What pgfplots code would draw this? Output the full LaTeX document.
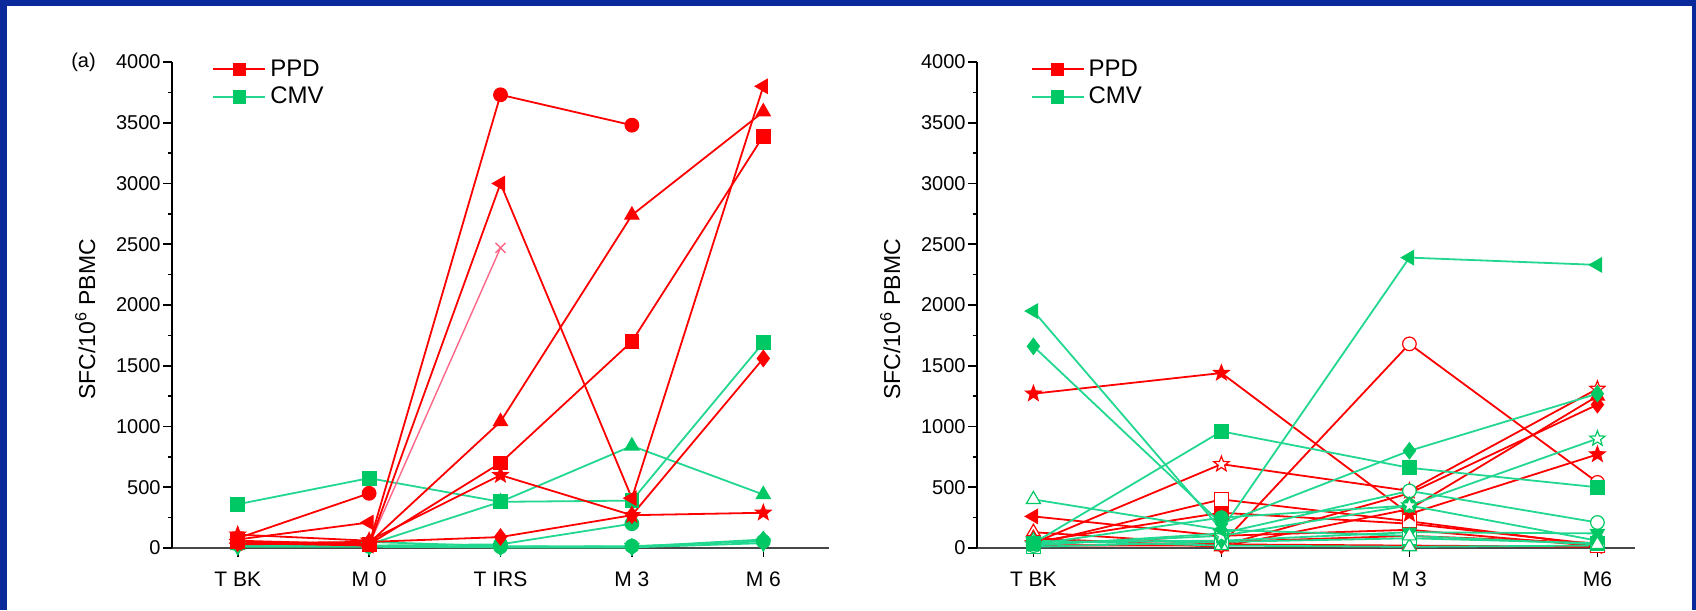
\documentclass[border=0pt]{standalone}
\usepackage{fontspec}
\setmainfont{Liberation Sans}
\usepackage{pgfplots}
\pgfplotsset{compat=1.18}
\usetikzlibrary{plotmarks}

\definecolor{frameblue}{HTML}{0A2A9C}
\definecolor{ppdred}{HTML}{FF0000}
\definecolor{ppdpink}{HTML}{FF6688}
\definecolor{cmvline}{HTML}{22D890}
\definecolor{cmvmark}{HTML}{00C864}

% filled five-point star
\pgfdeclareplotmark{fivestar}{%
  \pgfpathmoveto{\pgfpointpolar{90}{\pgfplotmarksize}}%
  \pgfpathlineto{\pgfpointpolar{126}{0.42\pgfplotmarksize}}%
  \pgfpathlineto{\pgfpointpolar{162}{\pgfplotmarksize}}%
  \pgfpathlineto{\pgfpointpolar{198}{0.42\pgfplotmarksize}}%
  \pgfpathlineto{\pgfpointpolar{234}{\pgfplotmarksize}}%
  \pgfpathlineto{\pgfpointpolar{270}{0.42\pgfplotmarksize}}%
  \pgfpathlineto{\pgfpointpolar{306}{\pgfplotmarksize}}%
  \pgfpathlineto{\pgfpointpolar{342}{0.42\pgfplotmarksize}}%
  \pgfpathlineto{\pgfpointpolar{18}{\pgfplotmarksize}}%
  \pgfpathlineto{\pgfpointpolar{54}{0.42\pgfplotmarksize}}%
  \pgfpathclose
  \pgfusepathqfillstroke
}

\pgfplotsset{
  sfc axis/.style={
    scale only axis,
    height=243pt,
    ymin=0, ymax=4000,
    ytick={0,500,...,4000},
    minor y tick num=1,
    axis lines*=left,
    x axis line style={draw=black!72, line width=1.4pt},
    y axis line style={draw=black, line width=0.8pt},
    tick align=outside,
    major tick length=4.5pt,
    minor tick length=2.2pt,
    every tick/.style={black, line width=0.8pt},
    yticklabel style={font=\fontsize{10}{12}\selectfont, inner sep=1pt},
    xticklabel style={font=\fontsize{10.5}{12}\selectfont},
    xticklabel shift=4pt,
    /pgf/number format/assume math mode=true,
    /pgf/number format/set thousands separator={},
    ylabel={SFC/10\textsuperscript{6} PBMC},
    ylabel style={font=\fontsize{11.5}{13}\selectfont,
      at={(axis description cs:-0.132,0.47)}, anchor=center},
    clip=false,
    legend style={draw=none, fill=none, font=\fontsize{12}{14}\selectfont,
      anchor=north west, inner sep=0pt, row sep=0pt},
    legend cell align=left,
    legend image code/.code={\draw[mark repeat=2,mark phase=2,#1]
      plot coordinates {(0pt,0pt) (13pt,0pt) (26pt,0pt)};},
  },
  ppd/.style={draw=ppdred, line width=0.9pt, mark size=3.4pt,
    mark options={draw=ppdred, fill=ppdred, solid, line width=0.6pt}},
  cmv/.style={draw=cmvline, line width=0.9pt, mark size=3.4pt,
    mark options={draw=cmvmark, fill=cmvmark, solid, line width=0.6pt}},
  open/.style={every mark/.append style={fill=white}},
  tup/.style={mark=triangle*, mark size=4pt},
  tleft/.style={mark=triangle*, mark size=4pt, every mark/.append style={rotate=90}},
  tdown/.style={mark=triangle*, mark size=4pt, every mark/.append style={rotate=180}},
  diam/.style={mark=diamond*, mark size=4pt},
  starm/.style={mark=fivestar, mark size=4pt},
}

\begin{document}
\begin{tikzpicture}
\fill[frameblue] (0pt,0pt) rectangle (848pt,305pt);
\fill[white] (3.5pt,0pt) rectangle (846pt,302pt);
\node[font=\fontsize{10}{12}\selectfont] at (41.75pt,274pt) {(a)};

% left panel
\begin{axis}[
  sfc axis,
  at={(86pt,31pt)}, anchor=south west,
  width=328.5pt,
  xmin=-0.5, xmax=4.5,
  xtick={0,1,2,3,4},
  xticklabels={T BK, M 0, T IRS, M 3, M 6},
  legend style={at={(axis description cs:0.061,1.014)}},
]
\addlegendimage{ppd, mark=square*, mark size=3pt}
\addlegendimage{cmv, mark=square*, mark size=3pt}
\legend{PPD,CMV}

% CMV
\addplot[cmv, diam] coordinates {(0,30) (1,50) (2,15) (3,10) (4,70)};
\addplot[cmv, tdown] coordinates {(0,10) (1,10) (2,5) (3,5) (4,40)};
\addplot[cmv, mark=*] coordinates {(0,40) (1,15) (2,10) (3,15) (4,55)};
\addplot[cmv, mark=*] coordinates {(0,30) (1,20) (2,30) (3,200)};
\addplot[cmv, tup] coordinates {(0,20) (1,30) (2,380) (3,840) (4,440)};
\addplot[cmv, mark=square*] coordinates {(0,360) (1,575) (2,380) (3,390) (4,1690)};

% PPD
\addplot[ppd, mark=*] coordinates {(0,80) (1,450)};
\addplot[ppd, tleft] coordinates {(0,70) (1,210)};
\addplot[ppd, diam] coordinates {(0,40) (1,50) (2,90) (3,270) (4,1560)};
\addplot[ppd, starm] coordinates {(0,110) (1,60) (2,600) (3,270) (4,290)};
\addplot[ppd, mark=square*] coordinates {(0,60) (1,30) (2,700) (3,1700) (4,3390)};
\addplot[ppd, tup] coordinates {(0,30) (1,40) (2,1040) (3,2740) (4,3590)};
\addplot[draw=ppdpink, line width=0.7pt, mark=x, mark size=3.5pt,
  mark options={draw=ppdpink, solid}] coordinates {(1,25) (2,2470)};
\addplot[ppd, tleft] coordinates {(0,40) (1,20) (2,3000) (3,410) (4,3800)};
\addplot[ppd, mark=*] coordinates {(0,50) (1,30) (2,3730) (3,3480)};
\end{axis}

% right panel
\begin{axis}[
  sfc axis,
  at={(488.5pt,31pt)}, anchor=south west,
  width=329pt,
  xmin=-0.3, xmax=3.2,
  xtick={0,1,2,3},
  xticklabels={T BK, M 0, M 3, M6},
  legend style={at={(axis description cs:0.081,1.014)}},
]
\addlegendimage{ppd, mark=square*, mark size=3pt}
\addlegendimage{cmv, mark=square*, mark size=3pt}
\legend{PPD,CMV}

% PPD
\addplot[ppd, mark=*] coordinates {(0,60) (1,50) (2,100) (3,40)};
\addplot[ppd, tup, open] coordinates {(0,130) (1,30) (2,20) (3,10)};
\addplot[ppd, tleft] coordinates {(0,260) (1,100) (2,150) (3,15)};
\addplot[ppd, mark=square*] coordinates {(0,50) (1,290) (2,200) (3,30)};
\addplot[ppd, mark=square*, open] coordinates {(0,30) (1,400) (2,220) (3,20)};
\addplot[ppd, tup] coordinates {(0,80) (1,10) (2,320) (3,1250)};
\addplot[ppd, diam] coordinates {(0,20) (1,20) (2,450) (3,1180)};
\addplot[ppd, starm, open] coordinates {(0,40) (1,690) (2,470) (3,1310)};
\addplot[ppd, mark=*, open] coordinates {(0,20) (1,30) (2,1680) (3,540)};
\addplot[ppd, starm] coordinates {(0,1270) (1,1440) (2,280) (3,770)};

% CMV
\addplot[cmv, mark=square*, open] coordinates {(0,10) (1,50) (2,80) (3,40)};
\addplot[cmv, tup, open] coordinates {(0,60) (1,20) (2,10) (3,20)};
\addplot[cmv, tdown] coordinates {(0,50) (1,60) (2,130) (3,120)};
\addplot[cmv, mark=*] coordinates {(0,30) (1,250) (2,350) (3,60)};
\addplot[cmv, mark=*, open] coordinates {(0,20) (1,120) (2,470) (3,210)};
\addplot[cmv, starm, open] coordinates {(0,30) (1,100) (2,350) (3,900)};
\addplot[cmv, tup, open] coordinates {(0,400) (1,150) (2,100) (3,30)};
\addplot[cmv, mark=square*] coordinates {(0,40) (1,960) (2,660) (3,500)};
\addplot[cmv, diam] coordinates {(0,1660) (1,200) (2,800) (3,1270)};
\addplot[cmv, tleft] coordinates {(0,1950) (1,150) (2,2390) (3,2330)};
\end{axis}

\pgfresetboundingbox
\path[use as bounding box] (0pt,0pt) rectangle (848pt,305pt);
\end{tikzpicture}
\end{document}
